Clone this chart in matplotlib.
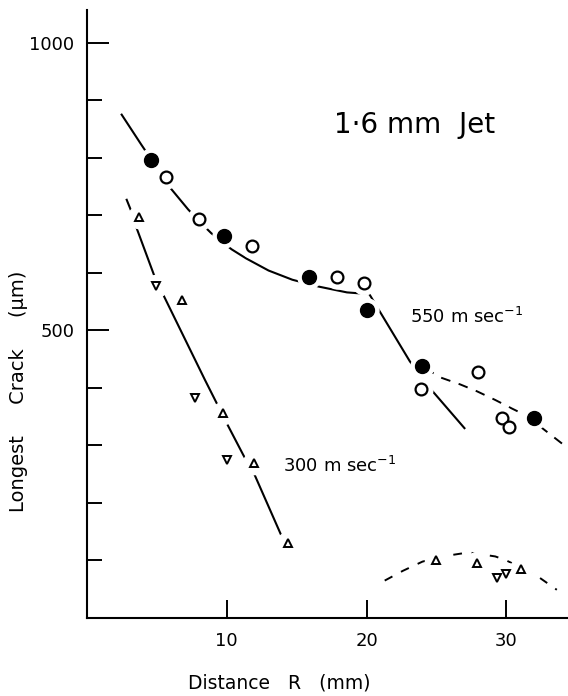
import matplotlib
matplotlib.use("Agg")
import matplotlib.pyplot as plt
import numpy as np

# 550 m/sec series
fill550_x = [4.6, 9.8, 15.9, 20.0, 24.0, 32.0]
fill550_y = [797, 664, 592, 536, 438, 347]
open550_x = [5.7, 8.0, 11.8, 17.9, 19.8, 23.9, 28.0, 29.7, 30.2]
open550_y = [767, 694, 646, 592, 582, 398, 427, 348, 332]

# 300 m/sec series
up300_x = [3.76, 6.8, 9.76, 11.95, 14.4, 24.95, 27.9, 31.05]
up300_y = [697, 553, 356, 270, 130, 101, 96, 85]
down300_x = [4.93, 7.74, 10.0, 29.35, 30.0]
down300_y = [577, 382, 275, 69, 77]

# hand drawn curves
curve550_x = [2.5, 3.9, 6.0, 7.26, 8.4, 8.9, 10.35, 11.4, 13.0, 14.7, 16.6, 18.6, 20.2, 23.1, 24.8, 27.0]
curve550_y = [875, 823, 747, 710, 681, 669, 641, 625, 604, 588, 576, 566, 563, 446, 392, 330]
dash550_x = [24.2, 25.3, 26.7, 27.9, 29.2, 30.4, 32.0, 32.4, 34.3]
dash550_y = [434, 418, 406, 394, 379, 364, 345, 333, 297]
curve300_x = [2.86, 3.29, 3.52, 4.8, 5.47, 8.45, 9.3, 10.0, 11.2, 12.0, 13.9]
curve300_y = [727, 701, 681, 597, 562, 414, 373, 339, 283, 249, 144]
arc_x = [21.3, 22.6, 24.0, 25.7, 27.3, 28.1, 29.2, 29.9, 31.9, 33.6]
arc_y = [65, 82, 98, 108, 114, 111, 107, 101, 78, 49]

fig = plt.figure(figsize=(5.68, 6.96), dpi=100)
ax = fig.add_axes([0.1526, 0.1121, 0.8474, 0.8736])

lw = 1.5
ax.plot(curve550_x, curve550_y, color="k", lw=lw, zorder=2)
ax.plot(dash550_x, dash550_y, color="k", lw=1.4, dashes=(5, 4.5), zorder=2)
ax.plot(curve300_x, curve300_y, color="k", lw=lw, zorder=2)
ax.plot(arc_x, arc_y, color="k", lw=1.4, dashes=(4.5, 5), zorder=2)

# white halos so the lines break around the points
halo = dict(ls="none", color="w", zorder=3)
ax.plot(fill550_x + open550_x, fill550_y + open550_y, marker="o", ms=16.5, **halo)
ax.plot(up300_x + down300_x, up300_y + down300_y, marker="o", ms=16, **halo)

ax.plot(fill550_x, fill550_y, ls="none", marker="o", ms=10, mfc="k", mec="k", zorder=4)
ax.plot(open550_x, open550_y, ls="none", marker="o", ms=8.5, mfc="w", mec="k", mew=1.6, zorder=4)
ax.plot(up300_x, up300_y, ls="none", marker="^", ms=5.8, mfc="w", mec="k", mew=1.4, zorder=4)
ax.plot(down300_x, down300_y, ls="none", marker="v", ms=5.8, mfc="w", mec="k", mew=1.4, zorder=4)

ax.text(23.4, 857, "1·6 mm  Jet", fontsize=20, ha="center", va="center")
ax.text(23.1, 523, "550 m sec$^{-1}$", fontsize=13, ha="left", va="center")
ax.text(14.0, 264, "300 m sec$^{-1}$", fontsize=13, ha="left", va="center")

ax.set_xlim(0, 34.4)
ax.set_ylim(0, 1057)
ax.spines["top"].set_visible(False)
ax.spines["right"].set_visible(False)
ax.spines["left"].set_linewidth(1.5)
ax.spines["bottom"].set_linewidth(1.5)

ax.set_xticks([10, 20, 30])
ax.set_yticks([500, 1000])
ax.set_yticks([100, 200, 300, 400, 600, 700, 800, 900], minor=True)
ax.tick_params(axis="y", which="major", direction="in", length=16, width=1.4, labelsize=13, pad=9)
ax.tick_params(axis="y", which="minor", direction="in", length=11, width=1.4)
ax.tick_params(axis="x", which="major", direction="in", length=13, width=1.4, labelsize=13, pad=10)

fig.text(0.491, 0.019, "Distance   R   (mm)", fontsize=13.5, ha="center", va="center")
fig.text(0.033, 0.438, "Longest     Crack     (μm)", fontsize=14, ha="center", va="center", rotation=90)

fig.savefig("out.png", dpi=100)
